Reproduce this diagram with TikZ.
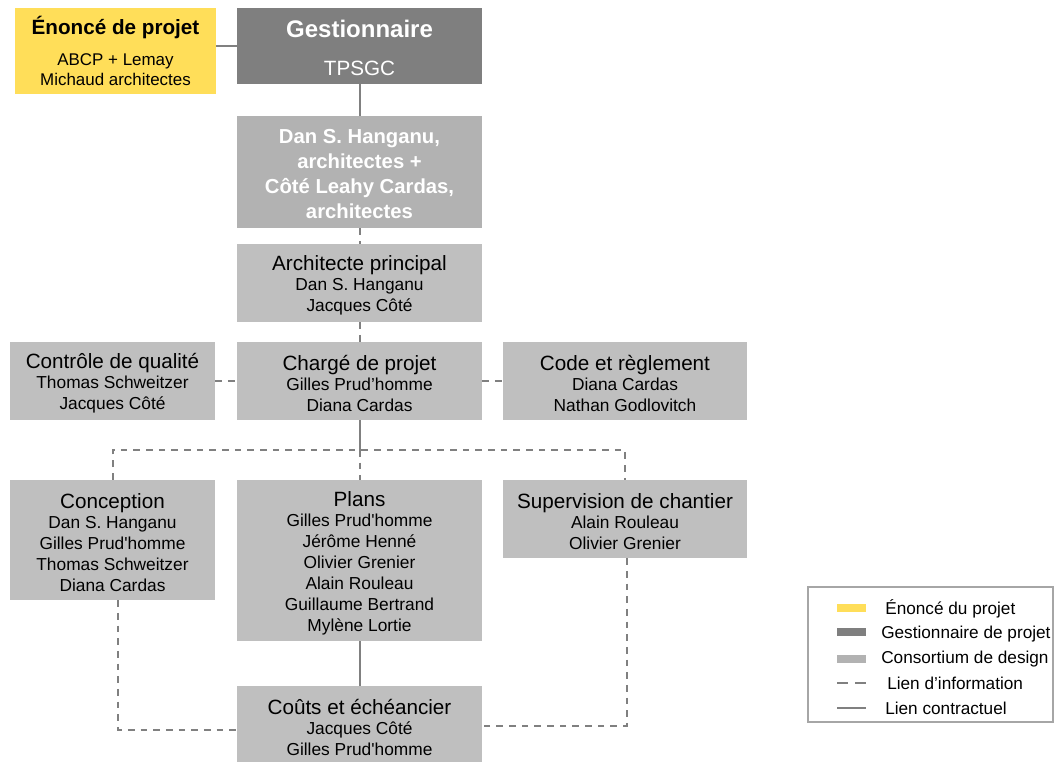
\documentclass[tikz,border=0pt]{standalone}
\usepackage{fontspec}
\setmainfont{Liberation Sans}[Ligatures=TeXOff]
\usetikzlibrary{calc}
\definecolor{yel}{HTML}{FFDE59}
\definecolor{dk}{HTML}{7F7F7F}
\definecolor{cons}{HTML}{B2B2B2}
\definecolor{lt}{HTML}{BFBFBF}
\definecolor{ln}{HTML}{808080}
\definecolor{legb}{HTML}{A6A6A6}
\newcommand\hd[1]{{\fontsize{15.5}{15.75}\selectfont\rule{0pt}{15pt}#1}\\[-0.75pt]}
\begin{document}
\begin{tikzpicture}[x=0.75pt,y=-0.75pt,
  box/.style={rectangle, inner sep=0pt, align=center, font=\fontsize{13}{15.75}\selectfont},
  ltbox/.style={box, fill=lt},
  wA/.style={minimum width=183.75pt},
  wB/.style={minimum width=153.75pt},
  contract/.style={draw=ln, line width=1.5pt},
  info/.style={draw=ln, line width=1.5pt, dash pattern=on 5pt off 4.5pt},
  swatch/.style={rectangle, inner sep=0pt, minimum width=21.75pt, minimum height=6pt},
  legtext/.style={anchor=west, inner sep=0pt, font=\fontsize{12.9}{15}\selectfont}
]
\useasboundingbox (0,0) rectangle (1055,761);

% top
\node[box, fill=yel, minimum width=150.75pt, minimum height=64.5pt, font=\fontsize{12.7}{15}\selectfont] (enonce) at (115.5,51)
  {{\bfseries\fontsize{15.5}{15}\selectfont Énoncé de projet}\\[8.25pt]ABCP + Lemay\\Michaud architectes};
\node[box, fill=dk, wA, minimum height=57pt, text=white, font=\fontsize{15.5}{15.75}\selectfont] (gest) at (359.5,46)
  {{\bfseries\fontsize{18}{15.75}\selectfont\rule{0pt}{16pt}Gestionnaire}\\[12.75pt]TPSGC};
\node[box, fill=cons, wA, minimum height=84pt, text=white, font=\bfseries\fontsize{15.2}{18.75}\selectfont] (cons) at (359.5,172)
  {\rule{0pt}{13pt}Dan S. Hanganu,\\architectes +\\Côté Leahy Cardas,\\architectes};
\node[ltbox, wA, minimum height=58.5pt] (archi) at (359.5,283)
  {\hd{Architecte principal}Dan S. Hanganu\\Jacques Côté};

% row 2
\node[ltbox, wB, minimum height=58.5pt] (qual) at (112.5,381)
  {\hd{Contrôle de qualité}Thomas Schweitzer\\Jacques Côté};
\node[ltbox, wA, minimum height=58.5pt] (charge) at (359.5,381)
  {\hd{Chargé de projet}Gilles Prud’homme\\Diana Cardas};
\node[ltbox, minimum width=183pt, minimum height=58.5pt] (code) at (625,381)
  {\hd{Code et règlement}Diana Cardas\\Nathan Godlovitch};

% row 3
\node[ltbox, wB, minimum height=90pt] (concep) at (112.5,540)
  {\hd{Conception}Dan S. Hanganu\\Gilles Prud'homme\\Thomas Schweitzer\\Diana Cardas};
\node[ltbox, wA, minimum height=120.75pt] (plans) at (359.5,560.5)
  {\hd{Plans}Gilles Prud'homme\\Jérôme Henné\\Olivier Grenier\\Alain Rouleau\\Guillaume Bertrand\\Mylène Lortie};
\node[ltbox, minimum width=183pt, minimum height=58.5pt] (superv) at (625,519)
  {\hd{Supervision de chantier}Alain Rouleau\\Olivier Grenier};

% bottom
\node[ltbox, wA, minimum height=59.25pt] (couts) at (359.5,725.5)
  {\hd{Coûts et échéancier}Jacques Côté\\Gilles Prud'homme};

% connectors
\draw[contract] (gest.west) -- (gest.west -| enonce.east);
\draw[contract] (gest.south) -- (cons.north);
\draw[info] (cons.south) -- (archi.north);
\draw[info] (archi.south) -- (charge.north);
\draw[info] (qual.east) -- (charge.west);
\draw[info] (charge.east) -- (code.west);
\coordinate (j) at (359.5,450);
\draw[contract] (charge.south) -- (j);
\draw[info] (concep.north) -- (concep.north |- j) -- (superv.north |- j) -- (superv.north);
\draw[info] (j) -- (plans.north);
\draw[contract] (plans.south) -- (couts.north);
\draw[info] ([xshift=4pt]concep.south) |- ([yshift=-3pt]couts.west);
\draw[info] ([xshift=1.5pt]superv.south) |- (couts.east);

% legend
\node[rectangle, draw=legb, line width=1.1pt, inner sep=0pt, minimum width=183.75pt, minimum height=101.25pt] (leg) at (930.5,654.5) {};
\node[swatch, fill=yel] (s1) at (851.5,608) {};
\node[swatch, fill=dk] (s2) at (851.5,632) {};
\node[swatch, fill=cons] (s3) at (851.5,659) {};
\coordinate (d1) at (837,683); \coordinate (d2) at (866,683);
\coordinate (c1) at (837,708); \coordinate (c2) at (866,708);
\draw[draw=ln, line width=1.5pt, dash pattern=on 8.25pt off 5.25pt] (d1) -- (d2);
\draw[contract] (c1) -- (c2);
\node[legtext] (t1) at (885,609) {Énoncé du projet};
\node[legtext] (t2) at (881,634) {Gestionnaire de projet};
\node[legtext] (t3) at (881,659) {Consortium de design};
\node[legtext] (t4) at (887,683) {Lien d’information};
\node[legtext] (t5) at (885,708) {Lien contractuel};
\end{tikzpicture}
\end{document}
